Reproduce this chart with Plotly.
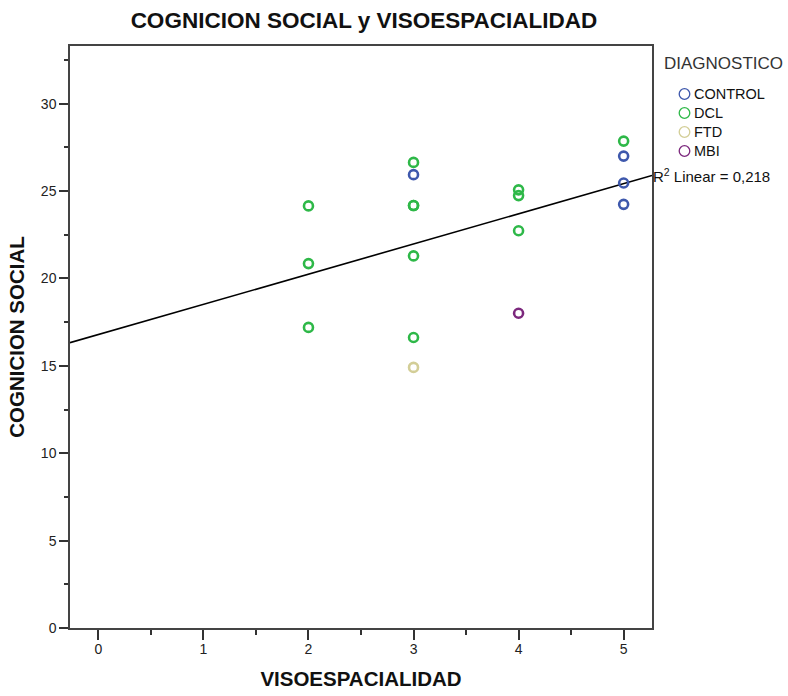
import numpy as np
import plotly.graph_objects as go

# Data
groups = ["CONTROL", "DCL", "FTD", "MBI"]
colors = {"CONTROL": "#3E58AC", "DCL": "#2EB848", "FTD": "#D3CE97", "MBI": "#7C287D"}

control_x = [3, 5, 5, 5]
control_y = [25.94, 27.0, 25.46, 24.24]
dcl_x = [2, 2, 2, 3, 3, 3, 3, 3, 4, 4, 4, 5]
dcl_y = [24.15, 20.85, 17.2, 26.64, 24.17, 24.17, 21.29, 16.62, 25.07, 24.74, 22.73, 27.86]
ftd_x = [3]
ftd_y = [14.91]
mbi_x = [4]
mbi_y = [18.01]

series = {
    "CONTROL": (control_x, control_y),
    "DCL": (dcl_x, dcl_y),
    "FTD": (ftd_x, ftd_y),
    "MBI": (mbi_x, mbi_y),
}

x_range = [-0.27, 5.27]
y_range = [0, 33.3]
r2_label = "R<sup>2</sup> Linear = 0,218"
legend_title = "DIAGNOSTICO"

all_x = np.array(control_x + dcl_x + ftd_x + mbi_x, dtype=float)
all_y = np.array(control_y + dcl_y + ftd_y + mbi_y, dtype=float)
slope, intercept = np.polyfit(all_x, all_y, 1)
fit_x = np.array(x_range)
fit_y = slope * fit_x + intercept

font_family = "Liberation Sans, Arial, sans-serif"

W, H = 788, 696
ML, MR, MT, MB = 70, 136, 46, 68
PW = W - ML - MR
PH = H - MT - MB


def px_to_paper_x(px):
    return (px - ML) / PW


def px_to_paper_y(py):
    return (H - MB - py) / PH


fig = go.Figure()

# fit line
fig.add_trace(go.Scatter(x=fit_x, y=fit_y, mode="lines",
                         line=dict(color="black", width=1.6),
                         showlegend=False, hoverinfo="skip"))

# data points
for g in groups:
    xs, ys = series[g]
    fig.add_trace(go.Scatter(
        x=xs, y=ys, mode="markers", name=g, showlegend=False,
        marker=dict(symbol="circle-open", size=9, color=colors[g],
                    line=dict(width=2.6, color=colors[g]))))

# R^2 label at the right end of the fit line
fig.add_annotation(x=1.0, xref="paper", y=fit_y[-1], yref="y",
                   text=r2_label, showarrow=False, xanchor="left", yanchor="middle",
                   xshift=-1,
                   font=dict(family=font_family, size=15, color="#111"))

# Legend (drawn manually for exact spacing)
fig.add_annotation(x=px_to_paper_x(662), xref="paper", y=px_to_paper_y(63), yref="paper",
                   text=legend_title, showarrow=False, xanchor="left", yanchor="middle",
                   font=dict(family=font_family, size=17, color="#333"))
for i, g in enumerate(groups):
    cy = 94 + 19 * i
    cx = 684.5
    r = 5.3
    fig.add_shape(type="circle", xref="paper", yref="paper",
                  x0=px_to_paper_x(cx - r), x1=px_to_paper_x(cx + r),
                  y0=px_to_paper_y(cy + r), y1=px_to_paper_y(cy - r),
                  line=dict(color=colors[g], width=1.3), fillcolor="rgba(0,0,0,0)")
    fig.add_annotation(x=px_to_paper_x(692), xref="paper", y=px_to_paper_y(cy), yref="paper",
                       text=g, showarrow=False, xanchor="left", yanchor="middle",
                       font=dict(family=font_family, size=14.5, color="#111"))

fig.update_layout(
    width=W, height=H,
    margin=dict(l=ML, r=MR, t=MT, b=MB),
    paper_bgcolor="white", plot_bgcolor="white",
    showlegend=False,
    title=dict(text="<b>COGNICION SOCIAL y VISOESPACIALIDAD</b>",
               x=364 / W, xanchor="center", y=1 - 20 / H, yanchor="middle",
               font=dict(family=font_family, size=22.5, color="#111")),
    font=dict(family=font_family, size=14, color="#111"),
)

fig.update_xaxes(
    range=x_range, showgrid=False, zeroline=False, automargin=False,
    tickmode="linear", tick0=0, dtick=1,
    ticks="outside", ticklen=10, tickcolor="#333", tickwidth=1.5,
    ticklabelstandoff=-3,
    minor=dict(dtick=0.5, tick0=0, ticks="outside", ticklen=5, tickcolor="#333", tickwidth=1.5),
    showline=True, linecolor="#444", linewidth=1.5, mirror=True,
    tickfont=dict(family=font_family, size=14, color="#222"),
    title=dict(text="<b>VISOESPACIALIDAD</b>", standoff=16,
               font=dict(family=font_family, size=20.5, color="#111")),
)
fig.update_yaxes(
    range=y_range, showgrid=False, zeroline=False, automargin=False,
    tickmode="linear", tick0=0, dtick=5,
    ticks="outside", ticklen=9, tickcolor="#333", tickwidth=1.5,
    minor=dict(dtick=2.5, tick0=0, ticks="outside", ticklen=4, tickcolor="#333", tickwidth=1.5),
    showline=True, linecolor="#444", linewidth=1.5, mirror=True,
    tickfont=dict(family=font_family, size=14, color="#222"),
    title=dict(text="<b>COGNICION SOCIAL</b>", standoff=11,
               font=dict(family=font_family, size=20.5, color="#111")),
)

fig.write_html("out.html")
